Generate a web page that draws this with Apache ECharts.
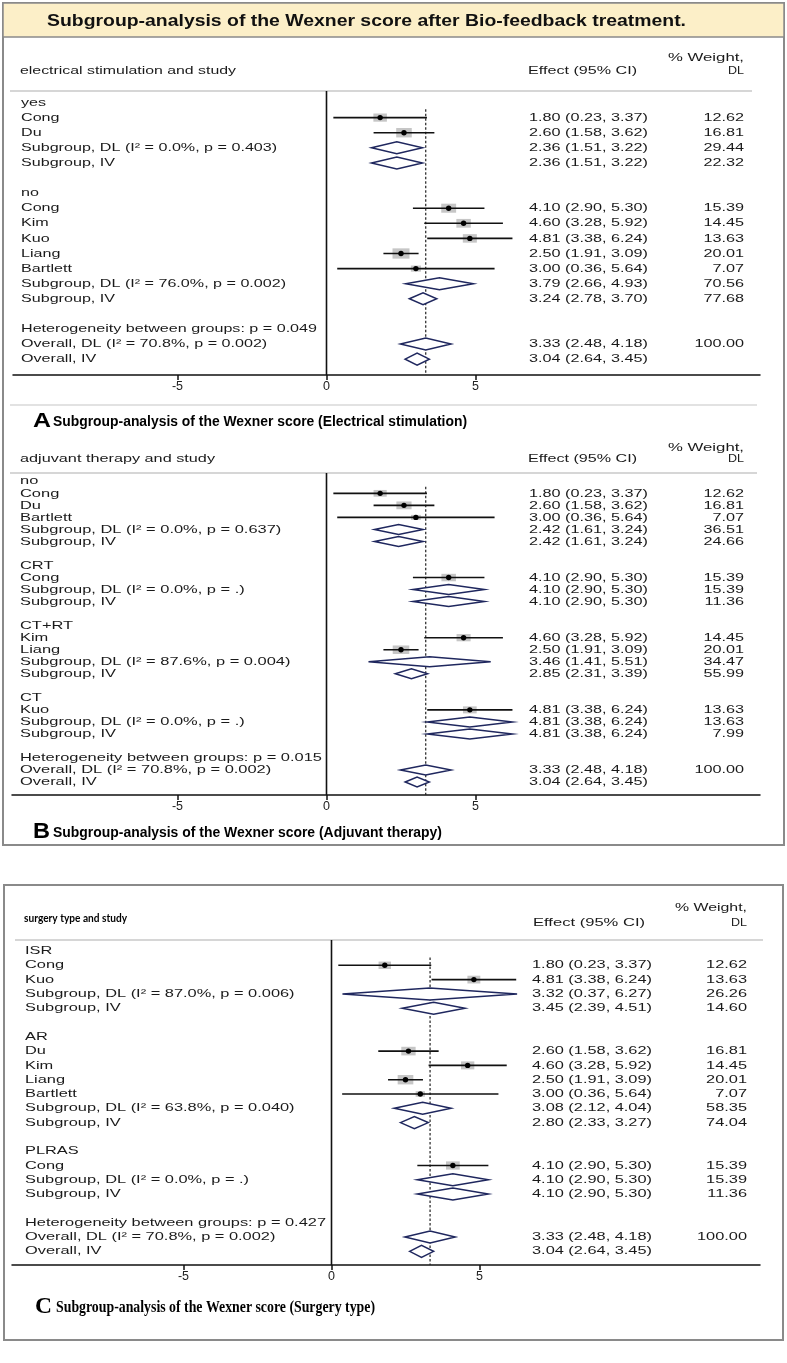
<!DOCTYPE html>
<html>
<head>
<meta charset="utf-8">
<script src="https://cdn.jsdelivr.net/npm/echarts@6/dist/echarts.min.js"></script>
<style>
  html, body { margin: 0; padding: 0; background: #fff; }
  #chart { width: 787px; height: 1363px; }
</style>
</head>
<body>
<div id="chart"></div>
<script>
// ---------- panel A: electrical stimulation ----------
const labelsA = ['yes', 'Cong', 'Du', 'Subgroup, DL (I² = 0.0%, p = 0.403)', 'Subgroup, IV', '',
  'no', 'Cong', 'Kim', 'Kuo', 'Liang', 'Bartlett', 'Subgroup, DL (I² = 76.0%, p = 0.002)', 'Subgroup, IV', '',
  'Heterogeneity between groups: p = 0.049', 'Overall, DL (I² = 70.8%, p = 0.002)', 'Overall, IV'];
const effA = [null, 1.80, 2.60, 2.36, 2.36, null, null, 4.10, 4.60, 4.81, 2.50, 3.00, 3.79, 3.24, null, null, 3.33, 3.04];
const loA  = [null, 0.23, 1.58, 1.51, 1.51, null, null, 2.90, 3.28, 3.38, 1.91, 0.36, 2.66, 2.78, null, null, 2.48, 2.64];
const hiA  = [null, 3.37, 3.62, 3.22, 3.22, null, null, 5.30, 5.92, 6.24, 3.09, 5.64, 4.93, 3.70, null, null, 4.18, 3.45];
const wtA  = [null, 12.62, 16.81, 29.44, 22.32, null, null, 15.39, 14.45, 13.63, 20.01, 7.07, 70.56, 77.68, null, null, 100.00, null];

// ---------- panel B: adjuvant therapy ----------
const labelsB = ['no', 'Cong', 'Du', 'Bartlett', 'Subgroup, DL (I² = 0.0%, p = 0.637)', 'Subgroup, IV', '',
  'CRT', 'Cong', 'Subgroup, DL (I² = 0.0%, p = .)', 'Subgroup, IV', '',
  'CT+RT', 'Kim', 'Liang', 'Subgroup, DL (I² = 87.6%, p = 0.004)', 'Subgroup, IV', '',
  'CT', 'Kuo', 'Subgroup, DL (I² = 0.0%, p = .)', 'Subgroup, IV', '',
  'Heterogeneity between groups: p = 0.015', 'Overall, DL (I² = 70.8%, p = 0.002)', 'Overall, IV'];
const effB = [null, 1.80, 2.60, 3.00, 2.42, 2.42, null, null, 4.10, 4.10, 4.10, null, null, 4.60, 2.50, 3.46, 2.85, null, null, 4.81, 4.81, 4.81, null, null, 3.33, 3.04];
const loB  = [null, 0.23, 1.58, 0.36, 1.61, 1.61, null, null, 2.90, 2.90, 2.90, null, null, 3.28, 1.91, 1.41, 2.31, null, null, 3.38, 3.38, 3.38, null, null, 2.48, 2.64];
const hiB  = [null, 3.37, 3.62, 5.64, 3.24, 3.24, null, null, 5.30, 5.30, 5.30, null, null, 5.92, 3.09, 5.51, 3.39, null, null, 6.24, 6.24, 6.24, null, null, 4.18, 3.45];
const wtB  = [null, 12.62, 16.81, 7.07, 36.51, 24.66, null, null, 15.39, 15.39, 11.36, null, null, 14.45, 20.01, 34.47, 55.99, null, null, 13.63, 13.63, 7.99, null, null, 100.00, null];

// ---------- panel C: surgery type ----------
const labelsC = ['ISR', 'Cong', 'Kuo', 'Subgroup, DL (I² = 87.0%, p = 0.006)', 'Subgroup, IV', '',
  'AR', 'Du', 'Kim', 'Liang', 'Bartlett', 'Subgroup, DL (I² = 63.8%, p = 0.040)', 'Subgroup, IV', '',
  'PLRAS', 'Cong', 'Subgroup, DL (I² = 0.0%, p = .)', 'Subgroup, IV', '',
  'Heterogeneity between groups: p = 0.427', 'Overall, DL (I² = 70.8%, p = 0.002)', 'Overall, IV'];
const effC = [null, 1.80, 4.81, 3.32, 3.45, null, null, 2.60, 4.60, 2.50, 3.00, 3.08, 2.80, null, null, 4.10, 4.10, 4.10, null, null, 3.33, 3.04];
const loC  = [null, 0.23, 3.38, 0.37, 2.39, null, null, 1.58, 3.28, 1.91, 0.36, 2.12, 2.33, null, null, 2.90, 2.90, 2.90, null, null, 2.48, 2.64];
const hiC  = [null, 3.37, 6.24, 6.27, 4.51, null, null, 3.62, 5.92, 3.09, 5.64, 4.04, 3.27, null, null, 5.30, 5.30, 5.30, null, null, 4.18, 3.45];
const wtC  = [null, 12.62, 13.63, 26.26, 14.60, null, null, 16.81, 14.45, 20.01, 7.07, 58.35, 74.04, null, null, 15.39, 15.39, 11.36, null, null, 100.00, null];

const tickValues = [-5, 0, 5];

const FONT = '11.5px "Liberation Sans", Arial, sans-serif';
const INK = '#1a1a1a';

// text width helper, used to stretch text like the scanned figure
const ctx = document.createElement('canvas').getContext('2d');
function textW(str, font) { ctx.font = font; return ctx.measureText(str).width; }
function txt(str, x, y, font, width, align, fill) {
  const s = width ? width / textW(str, font) : 1;
  return {
    type: 'text', x: x, y: y, scaleX: s, silent: true,
    style: { text: str, x: 0, y: 0, font: font, fill: fill || INK,
      align: align || 'left', verticalAlign: 'middle', textAlign: align || 'left', textVerticalAlign: 'middle' }
  };
}
const fmt = v => v.toFixed(2);

// layout of each panel (pixels)
const panels = [
  { labels: labelsA, eff: effA, lo: loA, hi: hiA, wt: wtA,
    top: 91, axisY: 375, row0: 102.5, step: 15.1, zeroX: 326.5, unit: 29.8, left: 13, rightEnd: 760,
    dh: 6, sqX: 3.8, sqY: 2.3, labX: 21, labW: 296, effX: 529, effW: 119, wtX: 744 },
  { labels: labelsB, eff: effB, lo: loB, hi: hiB, wt: wtB,
    top: 473, axisY: 795, row0: 481.3, step: 12.03, zeroX: 326.5, unit: 29.8, left: 12, rightEnd: 760,
    dh: 5, sqX: 3.7, sqY: 1.9, labX: 20, labW: 302, effX: 529, effW: 119, wtX: 744 },
  { labels: labelsC, eff: effC, lo: loC, hi: hiC, wt: wtC,
    top: 940, axisY: 1265, row0: 951, step: 14.3, zeroX: 331.5, unit: 29.6, left: 12, rightEnd: 760,
    dh: 6, sqX: 3.5, sqY: 2.1, labX: 25, labW: 301, effX: 532, effW: 120, wtX: 747 }
];

const grids = [], xAxes = [], yAxes = [], series = [];

panels.forEach((p, gi) => {
  const yMin = -(p.row0 - p.top) / p.step;
  const yMax = (p.axisY - p.row0) / p.step;
  grids.push({ left: p.left, width: p.rightEnd - p.left, top: p.top, height: p.axisY - p.top });
  xAxes.push({
    type: 'value', gridIndex: gi,
    min: (p.left - p.zeroX) / p.unit, max: (p.rightEnd - p.zeroX) / p.unit,
    splitLine: { show: false },
    axisLine: { onZero: false, lineStyle: { color: '#111', width: 1.5 } },
    axisTick: { customValues: tickValues, length: 5, lineStyle: { color: '#111', width: 1.5 } },
    axisLabel: { customValues: tickValues, color: '#222', fontSize: 12.5, fontFamily: 'Liberation Sans', margin: 5 }
  });
  yAxes.push({ type: 'value', gridIndex: gi, inverse: true, min: yMin, max: yMax, show: false });

  const hetRow = p.labels.findIndex(s => s.indexOf('Heterogeneity') === 0);
  const overallRow = p.labels.findIndex(s => s.indexOf('Overall, DL') === 0);
  const firstStudy = p.eff.findIndex(v => v != null);
  const sL = p.labW / textW(p.labels[hetRow], FONT);
  const refEff = fmt(p.eff[firstStudy]) + ' (' + fmt(p.lo[firstStudy]) + ', ' + fmt(p.hi[firstStudy]) + ')';
  const sE = p.effW / textW(refEff, FONT);

  // reference lines: null line and pooled overall estimate
  series.push({
    type: 'custom', xAxisIndex: gi, yAxisIndex: gi, silent: true, animation: false,
    data: [[0, yMin, yMax, 0], [p.eff[overallRow], 0.45, yMax, 1]],
    renderItem: (params, api) => {
      const a = api.coord([api.value(0), api.value(1)]);
      const b = api.coord([api.value(0), api.value(2)]);
      const dotted = api.value(3) === 1;
      return { type: 'line', shape: { x1: a[0], y1: a[1], x2: b[0], y2: b[1] },
        style: { stroke: dotted ? '#222' : '#111', lineWidth: dotted ? 1.2 : 1.6, lineDash: dotted ? [2.5, 2] : null } };
    }
  });

  // study boxes / CI lines and pooled diamonds
  const marks = [];
  p.eff.forEach((e, i) => {
    if (e == null) return;
    const pooled = /^(Subgroup|Overall)/.test(p.labels[i]) ? 1 : 0;
    marks.push([i, e, p.lo[i], p.hi[i], p.wt[i] == null ? 0 : p.wt[i], pooled]);
  });
  series.push({
    type: 'custom', xAxisIndex: gi, yAxisIndex: gi, silent: true, animation: false,
    data: marks,
    renderItem: (params, api) => {
      const row = api.value(0);
      const c = api.coord([api.value(1), row]);
      const a = api.coord([api.value(2), row]);
      const b = api.coord([api.value(3), row]);
      const w = api.value(4);
      if (api.value(5) === 1) {
        return { type: 'polygon',
          shape: { points: [[a[0], c[1]], [c[0], c[1] - p.dh], [b[0], c[1]], [c[0], c[1] + p.dh]] },
          style: { fill: '#fff', stroke: '#1f275e', lineWidth: 1.5 } };
      }
      const sw = p.sqX * Math.sqrt(w), sh = p.sqY * Math.sqrt(w);
      return { type: 'group', children: [
        { type: 'rect', shape: { x: c[0] - sw / 2, y: c[1] - sh / 2, width: sw, height: sh }, style: { fill: '#c6c6c6' } },
        { type: 'line', shape: { x1: a[0], y1: c[1], x2: b[0], y2: c[1] }, style: { stroke: '#111', lineWidth: 1.6 } },
        { type: 'circle', shape: { cx: c[0], cy: c[1], r: 2.7 }, style: { fill: '#000' } }
      ] };
    }
  });

  // row texts: label, effect (95% CI), weight
  series.push({
    type: 'custom', xAxisIndex: gi, yAxisIndex: gi, silent: true, animation: false,
    data: p.labels.map((s, i) => [0, i]),
    renderItem: (params, api) => {
      const i = params.dataIndex;
      const y = api.coord([0, i])[1];
      const kids = [];
      const lab = txt(p.labels[i], p.labX, y, FONT, 0, 'left');
      lab.scaleX = sL;
      kids.push(lab);
      if (p.eff[i] != null) {
        const et = txt(fmt(p.eff[i]) + ' (' + fmt(p.lo[i]) + ', ' + fmt(p.hi[i]) + ')', p.effX, y, FONT, 0, 'left');
        et.scaleX = sE;
        kids.push(et);
      }
      if (p.wt[i] != null) {
        const wt = txt(fmt(p.wt[i]), p.wtX, y, FONT, 0, 'right');
        wt.scaleX = sE;
        kids.push(wt);
      }
      return { type: 'group', children: kids };
    }
  });
});

// frames, headers and captions
const sep = (x1, x2, y, c) => ({ type: 'line', silent: true, shape: { x1: x1, y1: y, x2: x2, y2: y }, style: { stroke: c || '#d6d6d6', lineWidth: 2 } });
const graphics = [
  { type: 'rect', silent: true, shape: { x: 3, y: 3, width: 781, height: 842 }, style: { fill: 'none', stroke: '#8a8a8a', lineWidth: 2 } },
  { type: 'rect', silent: true, shape: { x: 3, y: 3, width: 781, height: 34 }, style: { fill: '#fcefc8', stroke: '#8a8a8a', lineWidth: 1.5 } },
  txt('Subgroup-analysis of the Wexner score after Bio-feedback treatment.', 47, 21, 'bold 17px "Liberation Sans", Arial, sans-serif', 639, 'left', '#111'),
  { type: 'rect', silent: true, shape: { x: 4, y: 885, width: 779, height: 455 }, style: { fill: 'none', stroke: '#8a8a8a', lineWidth: 2 } },

  // panel A header
  txt('% Weight,', 744, 58, FONT, 76, 'right'),
  txt('electrical stimulation and study', 20, 71, FONT, 216, 'left'),
  txt('Effect (95% CI)', 528, 71, FONT, 109, 'left'),
  txt('DL', 744, 71, FONT, 16, 'right'),
  sep(10, 752, 91),
  sep(10, 757, 405, '#e2e2e2'),
  txt('A', 33, 421, 'bold 21px "Liberation Sans", Arial, sans-serif', 18, 'left', '#000'),
  txt('Subgroup-analysis of the Wexner score (Electrical stimulation)', 53, 422, 'bold 15px "Liberation Sans", Arial, sans-serif', 414, 'left', '#000'),

  // panel B header
  txt('% Weight,', 744, 448, FONT, 76, 'right'),
  txt('adjuvant therapy and study', 20, 459, FONT, 195, 'left'),
  txt('Effect (95% CI)', 528, 459, FONT, 109, 'left'),
  txt('DL', 744, 459, FONT, 16, 'right'),
  sep(10, 757, 473),
  txt('B', 33, 832, 'bold 22px "Liberation Sans", Arial, sans-serif', 17, 'left', '#000'),
  txt('Subgroup-analysis of the Wexner score (Adjuvant therapy)', 53, 833, 'bold 15px "Liberation Sans", Arial, sans-serif', 389, 'left', '#000'),

  // panel C header
  txt('% Weight,', 747, 908, FONT, 72, 'right'),
  txt('surgery type and study', 24, 918, 'bold 11px Lato, "Open Sans", sans-serif', 103, 'left', '#000'),
  txt('Effect (95% CI)', 533, 923, FONT, 112, 'left'),
  txt('DL', 747, 923, FONT, 16, 'right'),
  sep(15, 763, 940),
  txt('C', 35, 1307, 'bold 24px "Liberation Serif", "Times New Roman", serif', 17, 'left', '#000'),
  txt('Subgroup-analysis of the Wexner score (Surgery type)', 56, 1308, 'bold 16px "Liberation Serif", "Times New Roman", serif', 319, 'left', '#000')
];

const chart = echarts.init(document.getElementById('chart'));
chart.setOption({
  animation: false,
  backgroundColor: '#fff',
  grid: grids,
  xAxis: xAxes,
  yAxis: yAxes,
  graphic: graphics,
  series: series
});
</script>
</body>
</html>
